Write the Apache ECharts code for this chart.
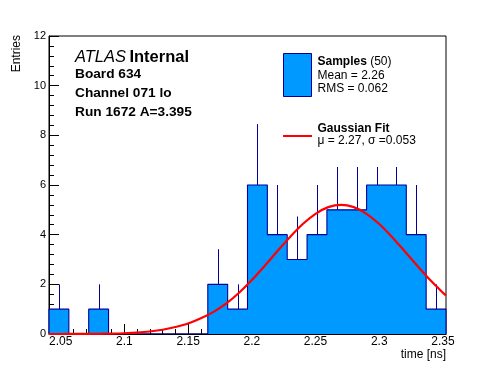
<!DOCTYPE html>
<html>
<head>
<meta charset="utf-8">
<script src="https://cdn.jsdelivr.net/npm/echarts@6/dist/echarts.min.js"></script>
<style>html,body{margin:0;padding:0;background:#fff;}#c{width:496px;height:372px;}</style>
</head>
<body>
<div id="c"></div>
<script>
// ---- data ----
const xMin = 2.0408;
const xMax = 2.3524;
const nBins = 20;
const counts = [1, 0, 1, 0, 0, 0, 0, 0, 2, 1, 6, 4, 3, 4, 5, 5, 6, 6, 4, 1];
const xMajorTicks = [2.05, 2.1, 2.15, 2.2, 2.25, 2.3, 2.35];
const xMinorTicks = [2.06, 2.07, 2.08, 2.09, 2.11, 2.12, 2.13, 2.14, 2.16, 2.17, 2.18, 2.19,
  2.21, 2.22, 2.23, 2.24, 2.26, 2.27, 2.28, 2.29, 2.31, 2.32, 2.33, 2.34];
const fitX = [2.0408, 2.05, 2.06, 2.07, 2.08, 2.09, 2.10, 2.11, 2.12, 2.13, 2.14, 2.15, 2.16, 2.17,
  2.18, 2.19, 2.20, 2.21, 2.22, 2.23, 2.24, 2.25, 2.26, 2.27, 2.28, 2.29, 2.30, 2.31, 2.32,
  2.33, 2.34, 2.35, 2.3524];
const fitY = [0.0, 0.001, 0.002, 0.004, 0.008, 0.016, 0.03, 0.055, 0.10, 0.17, 0.28, 0.42, 0.63, 0.89,
  1.23, 1.66, 2.17, 2.74, 3.33, 3.91, 4.43, 4.84, 5.11, 5.20, 5.11, 4.84, 4.43, 3.91, 3.33,
  2.74, 2.17, 1.66, 1.55];

const FILL = '#0099ff';
const EDGE = '#000099';
const FONT = 'Liberation Sans, Arial, Helvetica, sans-serif';

const binW = (xMax - xMin) / nBins;
const outline = [[xMin, 0]];
counts.forEach((c, i) => { outline.push([xMin + i * binW, c]); outline.push([xMin + (i + 1) * binW, c]); });
outline.push([xMax, 0]);
const errData = counts.map((c, i) => [xMin + (i + 0.5) * binW, c, c + Math.sqrt(c)]).filter(d => d[1] > 0);

const chart = echarts.init(document.getElementById('c'), null, {renderer: 'canvas'});
chart.setOption({
  animation: false,
  backgroundColor: '#ffffff',
  textStyle: {fontFamily: FONT},
  grid: {left: 49, right: 50, top: 36, bottom: 38, show: true, borderColor: '#000', borderWidth: 1, backgroundColor: 'transparent'},
  xAxis: [{
    type: 'value', min: xMin, max: xMax, position: 'bottom',
    axisLine: {show: true, lineStyle: {color: '#000', width: 1}},
    axisTick: {show: true, inside: true, length: 10, customValues: xMajorTicks, lineStyle: {color: '#000'}},
    axisLabel: {show: true, customValues: xMajorTicks, margin: 2, color: '#000', fontSize: 12, fontFamily: FONT},
    splitLine: {show: false}
  }, {
    type: 'value', min: xMin, max: xMax, position: 'bottom', gridIndex: 0,
    axisLine: {show: false},
    axisTick: {show: true, inside: true, length: 5, customValues: xMinorTicks, lineStyle: {color: '#000'}},
    axisLabel: {show: false},
    splitLine: {show: false}
  }],
  yAxis: {
    type: 'value', min: 0, max: 12, interval: 2,
    axisLine: {show: true, lineStyle: {color: '#000', width: 1}},
    axisTick: {show: true, inside: true, length: 10, lineStyle: {color: '#000'}},
    minorTick: {show: true, splitNumber: 5, length: 5, lineStyle: {color: '#000'}},
    axisLabel: {color: '#000', fontSize: 11, margin: 3, fontFamily: FONT},
    splitLine: {show: false}
  },
  series: [{
    type: 'line',
    data: outline,
    symbol: 'none',
    lineStyle: {color: EDGE, width: 1.1},
    areaStyle: {color: FILL, opacity: 1},
    z: 2
  }, {
    type: 'custom',
    data: errData,
    encode: {x: 0, y: [1, 2]},
    z: 3,
    renderItem: function (params, api) {
      const a = api.coord([api.value(0), api.value(1)]);
      const b = api.coord([api.value(0), api.value(2)]);
      const x = Math.round(a[0]) + 0.5;
      return {type: 'line', shape: {x1: x, y1: a[1], x2: x, y2: b[1]}, style: {stroke: EDGE, lineWidth: 1}};
    }
  }, {
    type: 'line',
    data: fitX.map((x, i) => [x, fitY[i]]),
    smooth: 0.3,
    symbol: 'none',
    lineStyle: {color: '#ff0000', width: 2.2},
    z: 4
  }],
  graphic: [
    {type: 'rect', z: 50, shape: {x: 279, y: 40, width: 166, height: 127}, style: {fill: '#ffffff'}},
    {type: 'text', z: 60, x: 17, y: 35, rotation: Math.PI / 2,
      style: {text: 'Entries', fill: '#000', font: '12px ' + FONT, align: 'right', verticalAlign: 'middle'}},
    {type: 'text', z: 60, x: 446, y: 355,
      style: {text: 'time [ns]', fill: '#000', font: '12px ' + FONT, align: 'right', verticalAlign: 'middle'}},
    {type: 'text', z: 60, x: 75, y: 57.4,
      style: {text: '{a|ATLAS} {b|Internal}', fill: '#000', verticalAlign: 'middle',
        rich: {a: {fontStyle: 'italic', fontSize: 16.5, fontFamily: FONT, fill: '#000'},
               b: {fontWeight: 'bold', fontSize: 16.5, fontFamily: FONT, fill: '#000'}}}},
    {type: 'text', z: 60, x: 75, y: 74.5, style: {text: 'Board 634', fill: '#000', font: 'bold 13.7px ' + FONT, verticalAlign: 'middle'}},
    {type: 'text', z: 60, x: 75, y: 93.5, style: {text: 'Channel 071 lo', fill: '#000', font: 'bold 13.7px ' + FONT, verticalAlign: 'middle'}},
    {type: 'text', z: 60, x: 75, y: 112.5, style: {text: 'Run 1672 A=3.395', fill: '#000', font: 'bold 13.7px ' + FONT, verticalAlign: 'middle'}},
    {type: 'rect', z: 60, shape: {x: 283.5, y: 53.5, width: 28, height: 43}, style: {fill: FILL, stroke: EDGE, lineWidth: 1}},
    {type: 'text', z: 60, x: 317.5, y: 61.5,
      style: {text: '{b|Samples} {r|(50)}', verticalAlign: 'middle',
        rich: {b: {fontWeight: 'bold', fontSize: 12, fontFamily: FONT, fill: '#000'},
               r: {fontSize: 12, fontFamily: FONT, fill: '#000'}}}},
    {type: 'text', z: 60, x: 317.5, y: 75.2, style: {text: 'Mean = 2.26', fill: '#000', font: '12px ' + FONT, verticalAlign: 'middle'}},
    {type: 'text', z: 60, x: 317.5, y: 89.1, style: {text: 'RMS = 0.062', fill: '#000', font: '12px ' + FONT, verticalAlign: 'middle'}},
    {type: 'line', z: 60, shape: {x1: 283, y1: 136, x2: 312, y2: 136}, style: {stroke: '#ff0000', lineWidth: 2}},
    {type: 'text', z: 60, x: 317.5, y: 128.5, style: {text: 'Gaussian Fit', fill: '#000', font: 'bold 12px ' + FONT, verticalAlign: 'middle'}},
    {type: 'text', z: 60, x: 317.5, y: 140.8, style: {text: 'μ = 2.27, σ =0.053', fill: '#000', font: '12px ' + FONT, verticalAlign: 'middle'}}
  ]
});
</script>
</body>
</html>
